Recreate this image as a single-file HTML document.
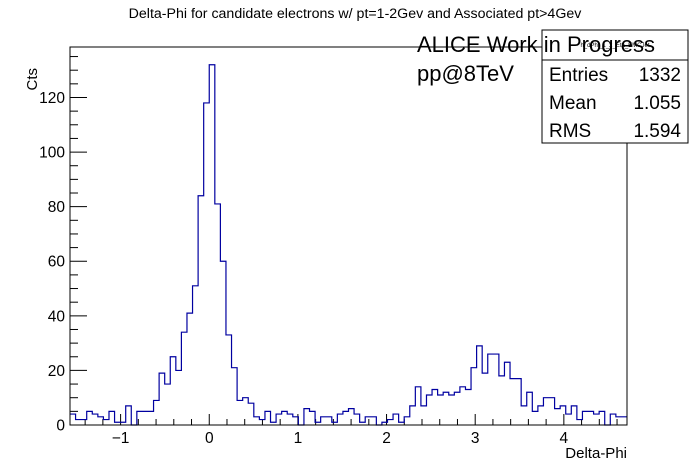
<!DOCTYPE html>
<html><head><meta charset="utf-8"><style>
body{margin:0;background:#fff;}
svg{display:block;font-family:"Liberation Sans",sans-serif;}
</style></head><body>
<svg id="c" width="696" height="472" viewBox="0 0 696 472" xmlns="http://www.w3.org/2000/svg">
<rect width="696" height="472" fill="#fff"/>
<text x="355" y="18" font-size="14.2" text-anchor="middle">Delta-Phi for candidate electrons w/ pt=1-2Gev and Associated pt&gt;4Gev</text>
<g id="axes"></g>
<path id="hist" fill="none" stroke="#0000a0" stroke-width="1.2"/>
<rect x="70" y="47" width="557" height="378" fill="none" stroke="#000" stroke-width="1"/>
<text transform="translate(37,68) rotate(-90)" font-size="15" text-anchor="end">Cts</text>
<text x="627" y="458" font-size="15" text-anchor="end">Delta-Phi</text>
<g>
<rect x="542" y="30" width="146" height="113" fill="#fff" stroke="#000"/>
<line x1="542" y1="60" x2="688" y2="60" stroke="#000"/>
<text x="615" y="47" font-size="6" text-anchor="middle">h_dPhi_1_2_Eta_EMCJet</text>
<text x="549" y="81" font-size="19">Entries</text><text x="681" y="81" font-size="19" text-anchor="end">1332</text>
<text x="549" y="109" font-size="19">Mean</text><text x="681" y="109" font-size="19" text-anchor="end">1.055</text>
<text x="549" y="137" font-size="19">RMS</text><text x="681" y="137" font-size="19" text-anchor="end">1.594</text>
</g>
<text x="417" y="52" font-size="22">ALICE Work in Progress</text>
<text x="417" y="81" font-size="22">pp@8TeV</text>
</svg>
<script>
const counts=[4,2,2,5,4,3,2,5,1,1,7,0,5,5,5,9,19,15,25,20,34,41,51,84,118,132,81,60,33,21,9,10,8,3,2,5,1,4,5,4,3,0,6,5,1,3,3,1,4,5,6,4,1,3,3,0,1,2,4,1,3,7,14,7,11,13,11,12,11,12,14,13,21,29,19,26,26,18,23,17,17,7,12,5,7,10,10,6,7,4,7,2,5,5,4,5,0,4,3,3];
const xTicks=[-1,0,1,2,3,4];
const yTicks=[0,20,40,60,80,100,120];
const xMin=-Math.PI/2,xMax=3*Math.PI/2,yMax=138.5;
const X0=70,X1=627,Y0=425,Y1=47;
const sx=v=>X0+(v-xMin)/(xMax-xMin)*(X1-X0);
const sy=v=>Y0-v/yMax*(Y0-Y1);
const ns="http://www.w3.org/2000/svg";
let d="",n=counts.length,w=(xMax-xMin)/n;
d+="M"+sx(xMin)+","+sy(counts[0]);
for(let i=0;i<n;i++){d+=" L"+sx(xMin+(i+1)*w)+","+sy(counts[i]);if(i<n-1)d+=" L"+sx(xMin+(i+1)*w)+","+sy(counts[i+1]);}
document.getElementById('hist').setAttribute('d',d);
const ax=document.getElementById('axes');
function ln(x1,y1,x2,y2){const l=document.createElementNS(ns,'line');l.setAttribute('x1',x1);l.setAttribute('y1',y1);l.setAttribute('x2',x2);l.setAttribute('y2',y2);l.setAttribute('stroke','#000');


ax.appendChild(l);}
function tx(x,y,s,a){const t=document.createElementNS(ns,'text');t.setAttribute('x',x);t.setAttribute('y',y);t.setAttribute('font-size','15.5');t.setAttribute('text-anchor',a);t.textContent=s;


ax.appendChild(t);}
for(let v=0;v<=yMax;v+=5){const y=sy(v);ln(X0,y,X0+(v%20==0?17:8),y);}
yTicks.forEach(v=>tx(X0-5,sy(v)+5.5,String(v),'end'));
for(let k=-7;k<=23;k++){const v=k*0.2;if(v<xMin||v>xMax)continue;const x=sx(v);ln(x,Y0,x,Y0-(k%5==0?11:6));}
xTicks.forEach(v=>tx(sx(v),Y0+18,v<0?"\u2212"+(-v):String(v),'middle'));
</script>
</body></html>
